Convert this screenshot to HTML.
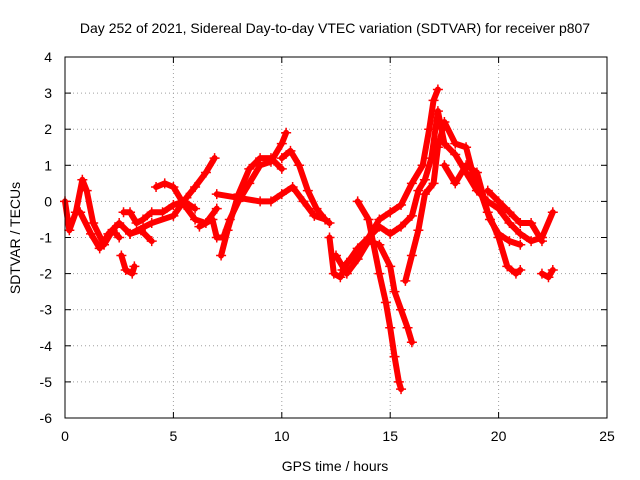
<!DOCTYPE html>
<html><head><meta charset="utf-8"><style>
body{margin:0;background:#fff}
svg{display:block;font-family:"Liberation Sans",sans-serif}
</style></head><body>
<svg id="chart" width="640" height="480">
<text x="335" y="33" font-size="14" text-anchor="middle">Day 252 of 2021, Sidereal Day-to-day VTEC variation (SDTVAR) for receiver p807</text>
<text x="335" y="471" font-size="14" text-anchor="middle">GPS time / hours</text>
<text x="20" y="238" font-size="14" text-anchor="middle" transform="rotate(-90 20 238)">SDTVAR / TECUs</text>
<g id="grid"></g><g id="marks"></g>
<rect x="65" y="57" width="542" height="361" fill="none" stroke="#000" stroke-width="1"/>
</svg>
<script>
const xTicks=[0,5,10,15,20,25];
const yTicks=[4,3,2,1,0,-1,-2,-3,-4,-5,-6];
const tracks=[
[[0,0],[0.2,-0.8],[0.5,-0.3],[0.8,0.6],[1.0,0.3],[1.3,-0.6],[1.8,-1.2],[2.2,-0.8],[2.5,-1.0]],
[[0.7,-0.3],[1.2,-0.9],[1.6,-1.3],[2.0,-0.9],[2.5,-0.6],[3.0,-0.9],[3.5,-0.8],[4.0,-1.1]],
[[2.6,-1.5],[2.8,-1.9],[3.1,-2.0],[3.2,-1.8]],
[[2.7,-0.3],[3.0,-0.3],[3.3,-0.6],[3.6,-0.5],[4.0,-0.3],[4.5,-0.3],[5,-0.1],[5.5,0],[6,-0.2]],
[[4.2,0.4],[4.6,0.5],[5,0.4],[5.5,-0.1],[6,-0.5],[6.5,-0.6],[7,-0.2]],
[[3,-0.9],[4,-0.6],[5,-0.4],[5.6,0.1],[6.0,0.4],[6.5,0.8],[6.9,1.2]],
[[6.2,-0.7],[6.8,-0.5],[7,-1],[7.3,-1.0],[7.6,-0.5],[8,0],[8.5,0.5],[9,1.0],[9.5,1.1],[10,1.6],[10.2,1.9]],
[[7.2,-1.5],[7.5,-0.8],[8,0.2],[8.5,0.9],[9,1.2],[9.5,1.2],[10,0.9]],
[[7,0.2],[8,0.1],[9,0],[9.5,0.0],[10,0.2],[10.5,0.4],[11,0],[11.5,-0.4],[12,-0.5],[12.2,-0.6]],
[[10,1.2],[10.4,1.4],[10.8,1.0],[11.2,0.3],[11.6,-0.2],[12,-0.5]],
[[12.2,-1.0],[12.4,-2.0],[12.7,-2.1],[13,-1.7],[13.5,-1.4],[14,-1.0],[14.5,-0.7],[15,-0.9],[15.5,-0.7],[16,-0.4],[16.3,0.3],[16.6,0.6],[16.9,1.2],[17.2,2.5],[17.5,1.6],[18,1.3],[18.5,0.8],[19,0.3],[19.5,0.0],[20,-0.2],[20.5,-0.6],[21,-0.9],[21.5,-1.1],[22,-1.0],[22.5,-0.3]],
[[12.5,-1.5],[13,-2.0],[13.5,-1.6],[14,-1.1],[14.5,-1.2],[15,-1.8],[15.2,-2.5],[15.5,-3.0],[15.8,-3.5],[16,-3.9]],
[[13.5,0],[14,-0.5],[14.5,-2.0],[14.8,-2.8],[15,-3.5],[15.2,-4.3],[15.4,-5.0],[15.5,-5.2]],
[[12.8,-1.9],[13.5,-1.3],[14,-1.0],[14.5,-0.5],[15,-0.3],[15.5,-0.1],[16,0.5],[16.5,1.0],[16.8,2.0],[17,2.8],[17.2,3.1]],
[[15.7,-2.2],[16,-1.5],[16.3,-0.8],[16.6,0.2],[17,0.5],[17.2,1.5],[17.5,2.2],[18,1.6],[18.5,1.5],[18.8,0.8],[19.2,0.2],[19.6,-0.5],[20,-0.9],[20.5,-1.1],[21,-1.2]],
[[17.5,1.0],[18,0.5],[18.5,1.0],[19,0.8],[19.5,-0.3],[20,-1.0],[20.4,-1.8],[20.8,-2.0],[21,-1.9]],
[[19.5,0.3],[20,0.0],[20.5,-0.3],[21,-0.6],[21.5,-0.6],[22,-1.1]],
[[22,-2.0],[22.3,-2.1],[22.5,-1.9]]
];
const NS='http://www.w3.org/2000/svg';
const sx=v=>65+(v-0)*(542/25);
const sy=v=>57+(4-v)*(361/10);
function mk(t,a,p){const e=document.createElementNS(NS,t);for(const k in a)e.setAttribute(k,a[k]);p.appendChild(e);return e;}
const grid=document.getElementById('grid'),marks=document.getElementById('marks');
xTicks.forEach(v=>{
  const x=sx(v);
  if(v>0&&v<25){const l=mk('line',{x1:x,x2:x,y1:57,y2:418,stroke:'#a0a0a0','stroke-dasharray':'1,3'},grid);
  
  }
  mk('line',{x1:x,x2:x,y1:418,y2:412,stroke:'#000'},grid);
  mk('line',{x1:x,x2:x,y1:57,y2:63,stroke:'#000'},grid);
  const t=mk('text',{x:x,y:441,'font-size':14,'text-anchor':'middle'},grid);t.textContent=v;
  
  
});
yTicks.forEach(v=>{
  const y=sy(v);
  if(v<4&&v>-6){const l=mk('line',{x1:65,x2:607,y1:y,y2:y,stroke:'#a0a0a0','stroke-dasharray':'1,3'},grid);
  
  }
  mk('line',{x1:65,x2:71,y1:y,y2:y,stroke:'#000'},grid);
  mk('line',{x1:601,x2:607,y1:y,y2:y,stroke:'#000'},grid);
  const t=mk('text',{x:52,y:y+5,'font-size':14,'text-anchor':'end'},grid);t.textContent=v;
  
  
});
tracks.forEach((tr,i)=>{
  const pl=mk('polyline',{points:tr.map(p=>sx(p[0])+','+sy(p[1])).join(' '),fill:'none',stroke:'#f00','stroke-width':6,'stroke-linejoin':'round','stroke-linecap':'round'},marks);
  
  
  tr.forEach(p=>{
    const x=sx(p[0]),y=sy(p[1]);
    const m=mk('path',{d:`M${x-5},${y}H${x+5}M${x},${y-5}V${y+5}`,stroke:'#f00','stroke-width':1.5},marks);
    
    
  });
});
</script>
</body></html>
